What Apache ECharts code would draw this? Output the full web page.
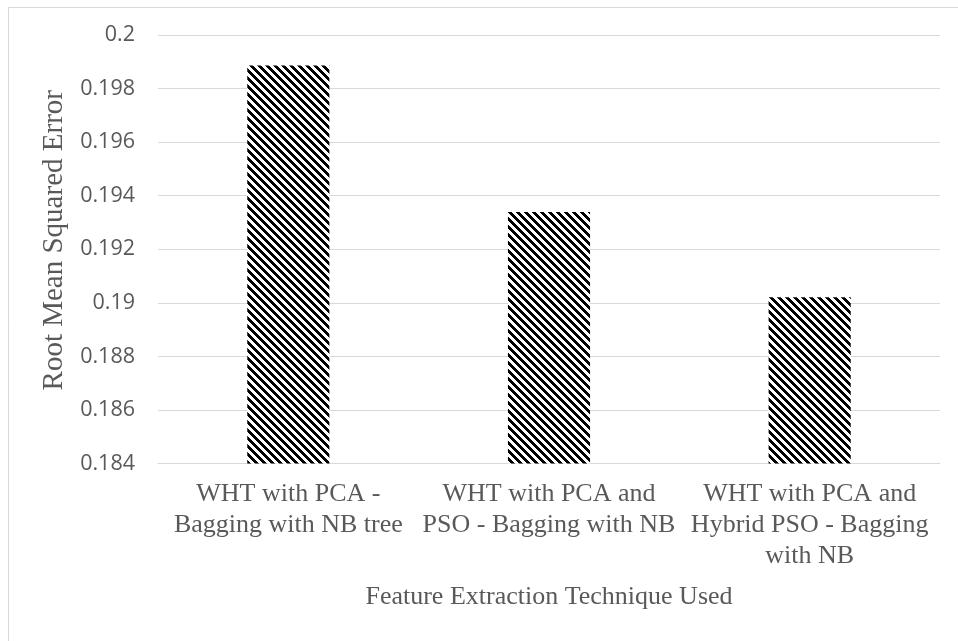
<!DOCTYPE html>
<html>
<head>
<meta charset="utf-8">
<script src="https://cdn.jsdelivr.net/npm/echarts@6/dist/echarts.min.js"></script>
<style>
html,body{margin:0;padding:0;background:#fff;}
#chart{width:958px;height:641px;}
</style>
</head>
<body>
<div id="chart"></div>
<script>
const categories = [
  "WHT with PCA -\nBagging with NB tree",
  "WHT with PCA and\nPSO - Bagging with NB",
  "WHT with PCA and\nHybrid PSO - Bagging\nwith NB"
];
const rmseValues = [0.19886, 0.19339, 0.19021];
const yTicks = { min: 0.184, max: 0.2, interval: 0.002 };
const xTitle = "Feature Extraction Technique Used";
const yTitle = "Root Mean Squared Error";

// diagonal stripe pattern
const pc = document.createElement('canvas');
pc.width = 8; pc.height = 8;
const pctx = pc.getContext('2d');
const img = pctx.createImageData(8, 8);
for (let y = 0; y < 8; y++) {
  for (let x = 0; x < 8; x++) {
    const k = (((x - y) % 8) + 8) % 8;
    const v = k < 4 ? 0 : 255;
    const i = (y * 8 + x) * 4;
    img.data[i] = v; img.data[i+1] = v; img.data[i+2] = v; img.data[i+3] = 255;
  }
}
pctx.putImageData(img, 0, 0);

const chart = echarts.init(document.getElementById('chart'), null, {renderer: 'canvas'});
chart.setOption({
  animation: false,
  backgroundColor: '#ffffff',
  graphic: [{
    type: 'rect',
    shape: { x: 8.5, y: 7.5, width: 970, height: 660 },
    style: { fill: 'none', stroke: '#d9d9d9', lineWidth: 1 },
    silent: true
  }],
  grid: { left: 158, right: 18, top: 35, bottom: 177.5, containLabel: false },
  xAxis: {
    type: 'category',
    data: categories,
    axisTick: { show: false },
    axisLine: { lineStyle: { color: '#d9d9d9', width: 1 } },
    axisLabel: {
      interval: 0,
      margin: 15,
      color: '#595959',
      fontFamily: '"Liberation Serif", "Times New Roman", serif',
      fontSize: 26,
      lineHeight: 31,
      align: 'center'
    },
    name: xTitle,
    nameLocation: 'middle',
    nameGap: 121,
    nameTextStyle: {
      color: '#595959',
      fontFamily: '"Liberation Serif", "Times New Roman", serif',
      fontSize: 26
    }
  },
  yAxis: {
    type: 'value',
    min: yTicks.min,
    max: yTicks.max,
    interval: yTicks.interval,
    axisLine: { show: false },
    axisTick: { show: false },
    splitLine: { lineStyle: { color: '#d9d9d9', width: 1 } },
    axisLabel: {
      margin: 23,
      color: '#595959',
      fontFamily: '"Open Sans", "Liberation Sans", sans-serif',
      fontSize: 21.5,
      formatter: v => String(parseFloat(v.toFixed(3)))
    },
    name: yTitle,
    nameLocation: 'middle',
    nameGap: 89,
    nameTextStyle: {
      color: '#595959',
      fontFamily: '"Liberation Serif", "Times New Roman", serif',
      fontSize: 29,
      padding: [0, 0, 0, 18]
    }
  },
  series: [{
    type: 'bar',
    data: rmseValues,
    barWidth: '31.5%',
    itemStyle: { color: { image: pc, repeat: 'repeat' } },
    silent: true
  }]
});
</script>
</body>
</html>
